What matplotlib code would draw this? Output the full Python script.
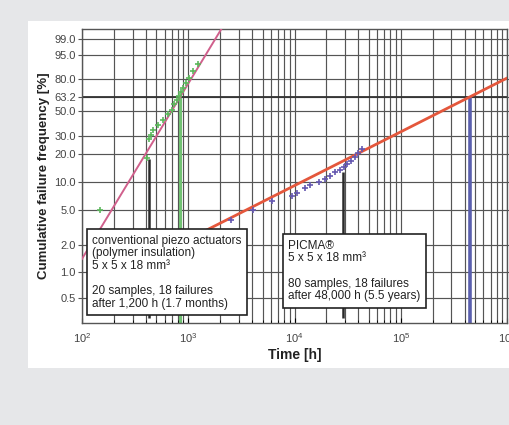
import numpy as np
import matplotlib
matplotlib.use('Agg')
import matplotlib.pyplot as plt
from matplotlib.patches import Rectangle
from matplotlib.ticker import FixedLocator, FixedFormatter, NullLocator, LogLocator

plt.rcParams['font.family'] = ['Liberation Sans', 'DejaVu Sans']

# conventional piezo actuators: failure times [h] and cumulative frequency [%]
conv_t = [148, 410, 425, 445, 470, 520, 575, 640, 700, 740, 780, 815, 850, 890, 945, 1010, 1100, 1230]
conv_F = [5.0, 18.0, 28.0, 31.0, 34.0, 38.0, 42.0, 47.0, 51.0, 56.0, 60.0, 64.0, 68.0, 72.0, 76.0, 81.0, 86.0, 91.0]
# fitted Weibull line (end points)
conv_fit_t = [100, 2200]
conv_fit_F = [1.4, 99.9]
conv_eta = 830

# PICMA actuators
picma_t = [2500, 4100, 6200, 9500, 10500, 12500, 14000, 17000, 19500, 21500, 24000, 27000, 29000, 31000, 34000, 37000, 40000, 43000]
picma_F = [3.8, 5.0, 6.3, 7.2, 7.7, 8.6, 9.3, 10.0, 11.0, 11.8, 12.8, 13.5, 14.6, 15.8, 17.0, 18.8, 20.5, 22.5]
picma_fit_t = [130, 1e6]
picma_fit_F = [0.67, 80.7]
picma_eta = 445000

# annotation anchor points (time, frequency)
conv_note = (431, 17.8)
picma_note = (28500, 13.0)

ytick_vals = [0.5, 1.0, 2.0, 5.0, 10.0, 20.0, 30.0, 50.0, 63.2, 80.0, 95.0, 99.0]
ytick_labels = ['0.5', '1.0', '2.0', '5.0', '10.0', '20.0', '30.0', '50.0', '63.2', '80.0', '95.0', '99.0']

conv_text = ("conventional piezo actuators\n(polymer insulation)\n5 x 5 x 18 mm\u00b3\n\n"
             "20 samples, 18 failures\nafter 1,200 h (1.7 months)")
picma_text = ("PICMA\u00ae\n5 x 5 x 18 mm\u00b3\n\n"
              "80 samples, 18 failures\nafter 48,000 h (5.5 years)")


def weib(F):
    F = np.asarray(F, dtype=float)
    with np.errstate(all='ignore'):
        return np.log(-np.log(1 - F / 100.0))


def weib_inv(y):
    y = np.asarray(y, dtype=float)
    with np.errstate(all='ignore'):
        return 100.0 * (1 - np.exp(-np.exp(y)))


fig = plt.figure(figsize=(5.1, 4.25), dpi=100, facecolor='#e6e7e9')
fig.patches.append(Rectangle((28 / 510, 1 - 368 / 425), (510 - 28) / 510, (368 - 21) / 425,
                             transform=fig.transFigure, facecolor='white', edgecolor='none', zorder=-10))

ax = fig.add_axes([82 / 510, 1 - 323 / 425, 425 / 510, 294 / 425])
ax.set_xscale('log')
ax.set_yscale('function', functions=(weib, weib_inv))
ax.set_xlim(1e2, 1e6)
ax.set_ylim(0.26, 99.75)

ax.yaxis.set_major_locator(FixedLocator(ytick_vals))
ax.yaxis.set_major_formatter(FixedFormatter(ytick_labels))
ax.yaxis.set_minor_locator(NullLocator())
ax.xaxis.set_major_locator(LogLocator(base=10))
ax.xaxis.set_minor_locator(LogLocator(base=10, subs=np.arange(2, 10)))

ax.grid(True, which='both', axis='x', color='#555555', linewidth=0.85)
ax.grid(True, which='major', axis='y', color='#555555', linewidth=0.85)
ax.axhline(63.2, color='#333333', linewidth=1.3, zorder=1.5)
ax.set_axisbelow(True)

ax.tick_params(axis='y', which='major', direction='out', length=3, labelsize=8, labelcolor='#444444',
               color='#555555', right=True, pad=1.5)
ax.tick_params(axis='x', which='both', direction='in', labelsize=8, labelcolor='#444444', pad=6)
for s in ax.spines.values():
    s.set_color('#555555')
    s.set_linewidth(1.0)

# fitted lines
ax.plot(conv_fit_t, conv_fit_F, color='#d0608c', linewidth=1.4, zorder=3)
ax.plot(picma_fit_t, picma_fit_F, color='#e4573c', linewidth=2.0, zorder=3)

# characteristic life markers
ax.vlines(conv_eta, 0.26, 63.2, color='#72c274', linewidth=2.2, zorder=2.5)
ax.vlines(picma_eta, 0.26, 63.2, color='#5a5fae', linewidth=2.6, zorder=2.5)

# data points
ax.plot(conv_t, conv_F, '+', color='#5cb85c', markersize=5, markeredgewidth=1.2, zorder=4)
ax.plot(picma_t, picma_F, '+', color='#6558b0', markersize=5, markeredgewidth=1.2, zorder=4)

# annotation connectors
ax.vlines(conv_note[0], 0.3, conv_note[1], color='#2a2a2a', linewidth=1.8, zorder=3.5)
ax.vlines(picma_note[0], 0.3, picma_note[1], color='#2a2a2a', linewidth=1.8, zorder=3.5)

box = dict(boxstyle='square,pad=0.45', facecolor='white', edgecolor='#222222', linewidth=1.2)
ax.text(0.0245, 0.301, conv_text, transform=ax.transAxes, ha='left', va='top', fontsize=8.5,
        color='#222222', linespacing=1.08, bbox=box, zorder=5)
ax.text(0.4857, 0.284, picma_text, transform=ax.transAxes, ha='left', va='top', fontsize=8.5,
        color='#222222', linespacing=1.08, bbox=box, zorder=5)

ax.set_xlabel('Time [h]', fontsize=10, fontweight='bold', color='#222222', labelpad=2)
ax.set_ylabel('Cumulative failure frequency [%]', fontsize=9.5, fontweight='bold', color='#222222',
              labelpad=3)

fig.savefig('out.png', dpi=100, facecolor=fig.get_facecolor())
